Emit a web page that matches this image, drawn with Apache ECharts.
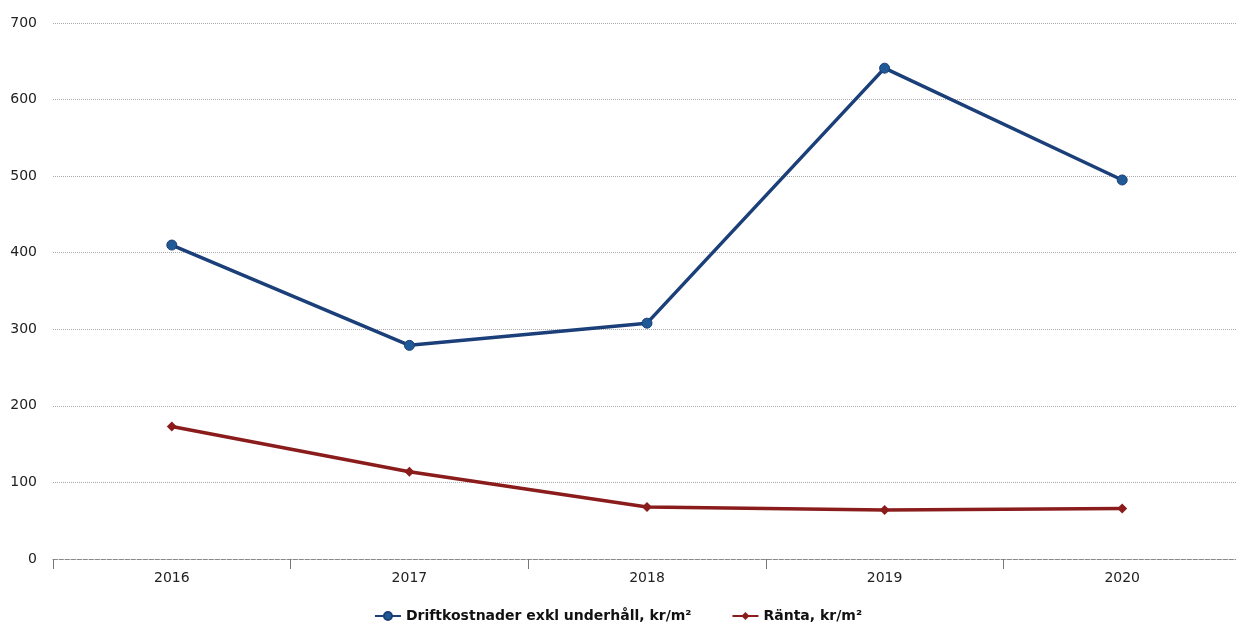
<!DOCTYPE html>
<html><head><meta charset="utf-8">
<script src="https://cdn.jsdelivr.net/npm/echarts@6/dist/echarts.min.js"></script>
<style>html,body{margin:0;padding:0;background:#fff}#c{width:1236px;height:629px}</style>
</head><body><div id="c"></div>
<script>
const categories = ['2016','2017','2018','2019','2020'];
const driftkostnader = [410, 279, 308, 641, 495];
const ranta = [173, 114, 68, 64, 66];
const yTicks = [0,100,200,300,400,500,600,700];
const seriesNames = ['Driftkostnader exkl underhåll, kr/m²', 'Ränta, kr/m²'];

const chart = echarts.init(document.getElementById('c'));
chart.setOption({
  animation: false,
  backgroundColor: '#fff',
  textStyle: {fontFamily: 'DejaVu Sans'},
  grid: {left: 53, width: 1188, top: 23, bottom: 70, outerBoundsMode: 'none', containLabel: false},
  legend: {
    bottom: 1, left: 'center', itemGap: 40, itemWidth: 26, itemHeight: 10,
    textStyle: {fontSize: 14, fontWeight: 'bold', color: '#111', fontFamily: 'DejaVu Sans'},
    data: seriesNames
  },
  xAxis: {
    type: 'category', data: categories, boundaryGap: true,
    axisLine: {show: true, lineStyle: {color: '#888', type: 'dashed', width: 1}},
    axisTick: {show: true, length: 10, lineStyle: {color: '#777'}},
    axisLabel: {fontSize: 14, color: '#222', margin: 12}
  },
  yAxis: {
    type: 'value', min: yTicks[0], max: yTicks[yTicks.length-1], interval: 100,
    axisLine: {show: false}, axisTick: {show: false},
    axisLabel: {fontSize: 14, color: '#222', margin: 16},
    splitLine: {lineStyle: {color: '#aaa', type: 'dotted', width: 1}}
  },
  series: [
    {name: seriesNames[0], type: 'line', data: driftkostnader,
     symbol: 'circle', symbolSize: 10,
     lineStyle: {color: '#1b3f78', width: 3.5},
     itemStyle: {color: '#1f5a96', borderColor: '#1b3f78', borderWidth: 1}},
    {name: seriesNames[1], type: 'line', data: ranta,
     symbol: 'diamond', symbolSize: 10,
     lineStyle: {color: '#8a1c1c', width: 3.5},
     itemStyle: {color: '#8a1c1c'}}
  ]
});
</script></body></html>
